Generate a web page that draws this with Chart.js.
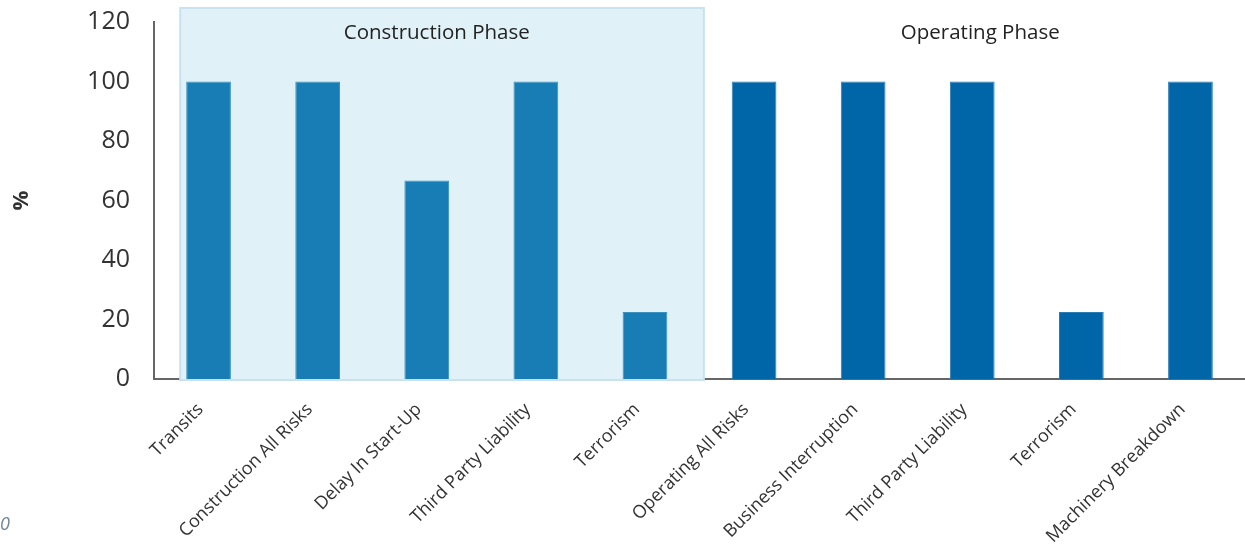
<!DOCTYPE html>
<html>
<head>
<meta charset="utf-8">
<script src="https://cdn.jsdelivr.net/npm/chart.js@4.4.1/dist/chart.umd.min.js"></script>
<style>
  html, body { margin: 0; padding: 0; background: #fff; }
  #wrap { width: 1245px; height: 558px; position: relative; }
</style>
</head>
<body>
<div id="wrap"><canvas id="coverChart"></canvas></div>
<script>
// Insurance cover purchased, by phase
const categories = [
    'Transits', 'Construction All Risks', 'Delay In Start-Up', 'Third Party Liability', 'Terrorism',
    'Operating All Risks', 'Business Interruption', 'Third Party Liability', 'Terrorism', 'Machinery Breakdown'
];
const coverage = [100, 100, 66.7, 100, 22.5, 100, 100, 100, 22.5, 100];
const phaseNames = ['Construction Phase', 'Operating Phase'];
const phaseCount = [5, 5];

const constructionBlue = '#187db4';
const operatingBlue = '#0066a8';

const barColors = categories.map((c, i) => i < phaseCount[0] ? constructionBlue : operatingBlue);
const barEdges = categories.map((c, i) => i < phaseCount[0] ? '#3a92c2' : '#2a7cb6');

// shaded box behind the construction bars plus the two phase captions
const phasePlugin = {
    id: 'phases',
    beforeDatasetsDraw(chart) {
        const { ctx, scales: { x, y } } = chart;
        const step = x.getPixelForValue(1) - x.getPixelForValue(0);
        const left = x.getPixelForValue(0) - step * 0.26;
        const right = x.getPixelForValue(phaseCount[0] - 1) + step * 0.54;
        const top = y.getPixelForValue(120) - 14;
        const bottom = y.getPixelForValue(0) + 1;
        ctx.save();
        ctx.fillStyle = '#e0f2f7';
        ctx.fillRect(left, top, right - left, bottom - top);
        ctx.strokeStyle = '#c9e2ef';
        ctx.lineWidth = 2;
        ctx.strokeRect(left, top, right - left, bottom - top);

        ctx.fillStyle = '#222';
        ctx.font = '20.5px "Open Sans", sans-serif';
        ctx.textAlign = 'center';
        ctx.textBaseline = 'middle';
        const labelY = y.getPixelForValue(120) + 11;
        ctx.fillText(phaseNames[0], x.getPixelForValue(2) + 10, labelY);
        ctx.fillText(phaseNames[1], x.getPixelForValue(7) + 8, labelY);
        ctx.restore();
    },
    afterDraw(chart) {
        const { ctx } = chart;
        ctx.save();
        ctx.fillStyle = '#6f8699';
        ctx.font = 'italic 18px "Open Sans", sans-serif';
        ctx.textBaseline = 'middle';
        ctx.fillText('0', 0, 525);
        ctx.restore();
    }
};

new Chart(document.getElementById('coverChart'), {
    type: 'bar',
    data: {
        labels: categories,
        datasets: [{
            data: coverage,
            backgroundColor: barColors,
            borderColor: barEdges,
            borderWidth: 1,
            borderSkipped: 'bottom',
            barPercentage: 0.41,
            categoryPercentage: 1
        }]
    },
    options: {
        responsive: true,
        maintainAspectRatio: false,
        animation: false,
        layout: { padding: { top: 22, right: 0, left: 0, bottom: 0 } },
        plugins: {
            legend: { display: false },
            tooltip: { enabled: false }
        },
        scales: {
            x: {
                grid: { display: false },
                border: { color: '#666', width: 2 },
                ticks: {
                    color: '#333',
                    font: { family: '"Open Sans", sans-serif', size: 18 },
                    maxRotation: 45,
                    minRotation: 45,
                    autoSkip: false,
                    labelOffset: -8,
                    padding: 12
                },
                afterFit(scale) { scale.height = 179; }
            },
            y: {
                min: 0,
                max: 120,
                grid: { display: false },
                border: { color: '#666', width: 2 },
                ticks: {
                    stepSize: 20,
                    color: '#333',
                    font: { family: '"Open Sans", sans-serif', size: 25 },
                    padding: 16
                },
                title: {
                    display: true,
                    text: '%',
                    color: '#333',
                    font: { family: '"Open Sans", sans-serif', size: 22, weight: 'bold' },
                    padding: { top: 9 }
                },
                afterFit(scale) {
                    scale.width = 154;
                    scale.paddingTop = 0;
                    scale.paddingBottom = 0;
                }
            }
        }
    },
    plugins: [phasePlugin]
});
</script>
</body>
</html>
